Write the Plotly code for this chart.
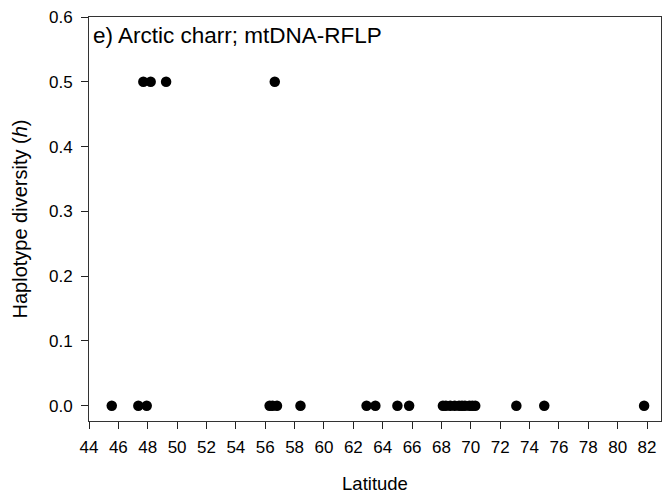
import plotly.graph_objects as go

# Data
latitude = [45.55, 47.36, 47.93, 56.3, 56.5, 56.8, 58.4, 62.9, 63.5, 65.0, 65.8,
            68.1, 68.3, 68.6, 68.9, 69.2, 69.4, 69.6, 69.9, 70.1, 70.3,
            73.1, 75.0, 81.8,
            47.7, 48.2, 49.25, 56.65]
haplotype_h = [0.0] * 24 + [0.5, 0.5, 0.5, 0.5]

x_ticks = list(range(44, 83, 2))
y_ticks = [0.0, 0.1, 0.2, 0.3, 0.4, 0.5, 0.6]
panel_label = "e) Arctic charr; mtDNA-RFLP"

FONT = "Liberation Sans, Arial, sans-serif"

fig = go.Figure()
fig.add_trace(go.Scatter(
    x=latitude, y=haplotype_h, mode="markers",
    marker=dict(size=10.5, color="black", line=dict(width=0)),
    showlegend=False,
))

fig.update_layout(
    width=663, height=498,
    margin=dict(l=89, r=2, t=17, b=77),
    paper_bgcolor="white", plot_bgcolor="white",
    font=dict(family=FONT, size=17, color="black"),
    xaxis=dict(
        range=[44, 82.95], tickvals=x_ticks, ticks="outside", ticklen=7,
        tickcolor="#222", showline=True, linecolor="#333", linewidth=1,
        mirror=True, showgrid=False, zeroline=False,
        tickfont=dict(size=17), ticklabelstandoff=4,
        title=dict(text="Latitude", font=dict(size=18.5), standoff=20),
    ),
    yaxis=dict(
        range=[-0.0236, 0.6], tickvals=y_ticks, tickformat=".1f",
        ticks="outside", ticklen=7, tickcolor="#222",
        showline=True, linecolor="#333", linewidth=1, mirror=True,
        showgrid=False, zeroline=False, tickfont=dict(size=17),
        ticklabelstandoff=5,
        title=dict(text="Haplotype diversity (<i>h</i>)", font=dict(size=20), standoff=15),
    ),
    annotations=[dict(
        text=panel_label, xref="paper", yref="paper", x=0.004, y=0.995,
        xanchor="left", yanchor="top", showarrow=False, yshift=-2,
        font=dict(size=22.5, family=FONT, color="black"),
    )],
)

fig.write_html("out.html")
